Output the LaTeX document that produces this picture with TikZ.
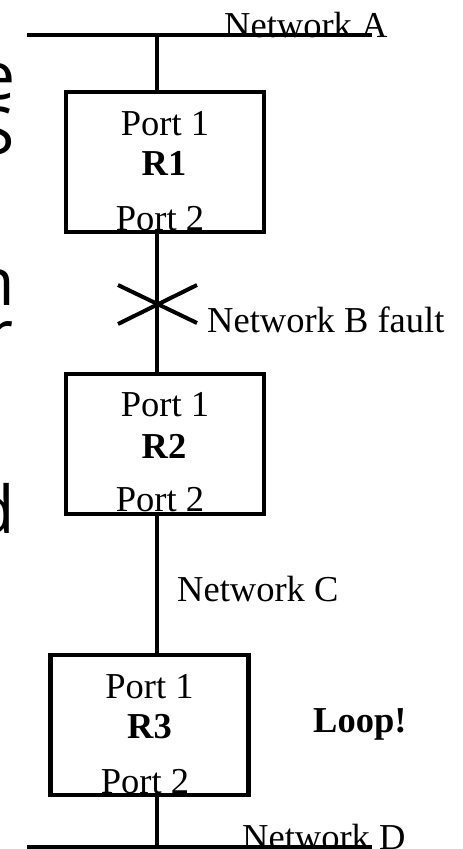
\documentclass[tikz,border=0pt]{standalone}
\usepackage{fontspec}
\setmainfont{Liberation Serif}
\newfontfamily\fragfont{Open Sans}
\begin{document}
\begin{tikzpicture}[x=1pt,y=-1pt,
  wire/.style={line width=4.5pt},
  router/.style={draw,line width=4.5pt,rectangle,inner sep=0pt,minimum width=198pt,minimum height=140pt},
  lbl/.style={inner sep=0pt,font=\fontsize{36.5}{40}\selectfont},
  blbl/.style={inner sep=0pt,font=\fontsize{36.5}{40}\selectfont\bfseries},
  frag/.style={inner sep=0pt,anchor=base east,font=\fontsize{66}{70}\selectfont\fragfont}]
\useasboundingbox (0,0) rectangle (463,849);
\clip (0,0) rectangle (463,849);
% cut-off text at the left edge
\node[frag] (f1) at (16,99) {e};
\node[frag] (f2) at (15,154) {S};
\node[frag] (f3) at (15,305) {n};
\node[frag] (f4) at (14,357) {r};
\node[frag] (f5) at (15,533) {d};
% routers
\node[router] (r1) at (165,162) {};
\node[router] (r2) at (165,444) {};
\node[router] (r3) at (149.5,725) {};
% bus lines
\coordinate (aL) at (27,35);
\coordinate (aR) at (372,35);
\coordinate (aT) at (157,35);
\coordinate (dL) at (27,847);
\coordinate (dR) at (372,847);
\coordinate (dT) at (157,847);
\draw[wire] (aL) -- (aR);
\draw[wire] (dL) -- (dR);
% vertical links
\draw[wire] (aT) -- (aT |- r1.north);
\draw[wire] (aT |- r1.south) -- (aT |- r2.north);
\draw[wire] (aT |- r2.south) -- (aT |- r3.north);
\draw[wire] (aT |- r3.south) -- (dT);
% fault mark
\coordinate (x1) at (118,285);
\coordinate (x2) at (197,323);
\coordinate (x3) at (118,324);
\coordinate (x4) at (197,285);
\draw[line width=4pt] (x1) -- (x2);
\draw[line width=4pt] (x3) -- (x4);
% labels
\node[lbl,anchor=base west] (na) at (224,37) {Network A};
\node[lbl,anchor=base] (r1p1) at (165,135) {Port 1};
\node[blbl,anchor=base] (r1n) at (164,175) {R1};
\node[lbl,anchor=base] (r1p2) at (160,230) {Port 2};
\node[lbl,anchor=base west] (nb) at (207,332) {Network B fault};
\node[lbl,anchor=base] (r2p1) at (165,416) {Port 1};
\node[blbl,anchor=base] (r2n) at (164,458) {R2};
\node[lbl,anchor=base] (r2p2) at (160,511) {Port 2};
\node[lbl,anchor=base west] (nc) at (177,601) {Network C};
\node[lbl,anchor=base] (r3p1) at (149.5,698) {Port 1};
\node[blbl,anchor=base] (r3n) at (149.5,738) {R3};
\node[lbl,anchor=base] (r3p2) at (145,793) {Port 2};
\node[blbl,anchor=base west] (loop) at (313,732) {Loop!};
\node[lbl,anchor=base west] (nd) at (242,849) {Network D};
\end{tikzpicture}
\end{document}
